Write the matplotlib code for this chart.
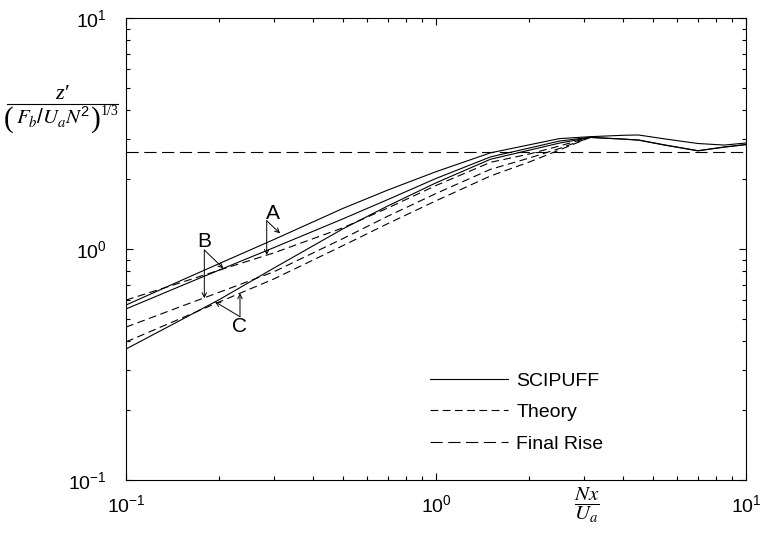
import matplotlib
matplotlib.use('Agg')
import matplotlib.pyplot as plt
from matplotlib.lines import Line2D

plt.rcParams['font.family'] = ['Liberation Sans', 'DejaVu Sans']
plt.rcParams['mathtext.default'] = 'regular'

# ---- data ----
x_rise = [0.1, 0.15, 0.2, 0.3, 0.5, 0.7, 1.0, 1.5, 2.0, 2.5, 3.14]
x_tail = [3.14, 4.0, 4.5, 5.5, 7.0, 8.5, 10.0]

scipuff_A = [0.572, 0.729, 0.865, 1.099, 1.497, 1.801, 2.161, 2.609, 2.825, 3.005, 3.063]
scipuff_B = [0.550, 0.691, 0.811, 1.014, 1.349, 1.638, 2.020, 2.505, 2.736, 2.932, 3.045]
scipuff_C = [0.369, 0.492, 0.604, 0.827, 1.221, 1.537, 1.934, 2.447, 2.678, 2.873, 3.039]

theory_A = [0.601, 0.715, 0.810, 0.962, 1.234, 1.506, 1.883, 2.373, 2.578, 2.792, 3.045]
theory_B = [0.459, 0.563, 0.650, 0.797, 1.108, 1.388, 1.739, 2.213, 2.477, 2.723, 3.039]
theory_C = [0.396, 0.500, 0.590, 0.742, 1.033, 1.289, 1.617, 2.072, 2.380, 2.683, 3.039]

tail_A = [3.063, 3.106, 3.116, 2.993, 2.862, 2.818, 2.876]
tail_B = [3.045, 2.993, 2.964, 2.818, 2.665, 2.764, 2.834]
tail_C = [3.039, 2.990, 2.960, 2.812, 2.660, 2.760, 2.830]

final_rise = 2.62
x_limits = [0.1, 10.0]
y_limits = [0.1, 10.0]

W, H = 760, 539

# ---- figure ----
fig = plt.figure(figsize=(7.6, 5.39), dpi=100)
ax = fig.add_axes([126/W, 1-480/H, 620/W, 462/H])
ax.set_xscale('log')
ax.set_yscale('log')

lw = 0.8
theory_ls = (0, (7, 4))
rise_ls = (0, (11, 5))

ax.plot(x_rise, scipuff_A, color='k', lw=lw, label='SCIPUFF')
ax.plot(x_rise, scipuff_B, color='k', lw=lw)
ax.plot(x_rise, scipuff_C, color='k', lw=lw)
ax.plot(x_tail, tail_A, color='k', lw=lw)
ax.plot(x_tail, tail_B, color='k', lw=lw)
ax.plot(x_tail, tail_C, color='k', lw=lw)

ax.plot(x_rise, theory_A, color='k', lw=lw, ls=theory_ls, label='Theory')
ax.plot(x_rise, theory_B, color='k', lw=lw, ls=theory_ls)
ax.plot(x_rise, theory_C, color='k', lw=lw, ls=theory_ls)

ax.plot(x_limits, [final_rise, final_rise], color='k', lw=lw, ls=rise_ls, label='Final Rise')

ax.set_xlim(x_limits)
ax.set_ylim(y_limits)

ax.tick_params(which='both', direction='in', top=True, right=True, width=0.8, labelsize=14)
ax.tick_params(which='major', length=5)
ax.tick_params(which='minor', length=3)
ax.tick_params(axis='x', pad=10)
ax.tick_params(axis='y', pad=14)
for s in ax.spines.values():
    s.set_linewidth(0.8)

# annotations
arrow = dict(arrowstyle='->', lw=0.7, color='k', shrinkA=0, shrinkB=0, mutation_scale=8)
ax.text(0.2972, 1.427, 'A', fontsize=15, ha='center', va='center')
ax.annotate('', xy=(0.314, 1.169), xytext=(0.2844, 1.326), arrowprops=arrow)
ax.annotate('', xy=(0.2844, 0.942), xytext=(0.2844, 1.326), arrowprops=arrow)

ax.text(0.1789, 1.083, 'B', fontsize=15, ha='center', va='center')
ax.annotate('', xy=(0.2060, 0.825), xytext=(0.1789, 0.990), arrowprops=arrow)
ax.annotate('', xy=(0.1789, 0.612), xytext=(0.1789, 0.990), arrowprops=arrow)

ax.text(0.2332, 0.464, 'C', fontsize=15, ha='center', va='center')
ax.annotate('', xy=(0.1937, 0.591), xytext=(0.2332, 0.509), arrowprops=arrow)
ax.annotate('', xy=(0.2332, 0.643), xytext=(0.2332, 0.509), arrowprops=arrow)

ax.legend(loc='upper left', bbox_to_anchor=(0.49, 0.234), frameon=False, fontsize=14,
          handlelength=4.0, handletextpad=0.45, labelspacing=0.72,
          borderaxespad=0, borderpad=0)

# ---- y label, built as a stacked fraction ----
def fx(px):
    return px / W

def fy(py):
    return 1 - py / H

fig.text(fx(62), fy(99), "z\u2032", fontname='Liberation Serif', style='italic',
         fontsize=16, ha='center', va='baseline')
fig.add_artist(Line2D([fx(7), fx(118)], [fy(104), fy(104)], color='k', lw=0.8))
fig.text(fx(9), fy(120), "(", fontname='Liberation Serif',
         fontsize=21, ha='center', va='center')
fig.text(fx(53), fy(124),
         r"$\mathit{F}_{\mathit{b}}/\mathit{U}_{\mathit{a}}\mathit{N}^{2}$",
         math_fontfamily='stix', fontsize=15, ha='center', va='baseline')
fig.text(fx(96), fy(120), ")", fontname='Liberation Serif',
         fontsize=21, ha='center', va='center')
fig.text(fx(110), fy(115), "1/3", fontname='Liberation Serif',
         fontsize=10, ha='center', va='baseline')

# ---- x label ----
fig.text(fx(587), fy(505),
         r"$\dfrac{\mathit{Nx}}{\mathit{U}_{\mathit{a}}}$",
         math_fontfamily='stix', fontsize=15, ha='center', va='center')

fig.savefig('out.png', dpi=100)
